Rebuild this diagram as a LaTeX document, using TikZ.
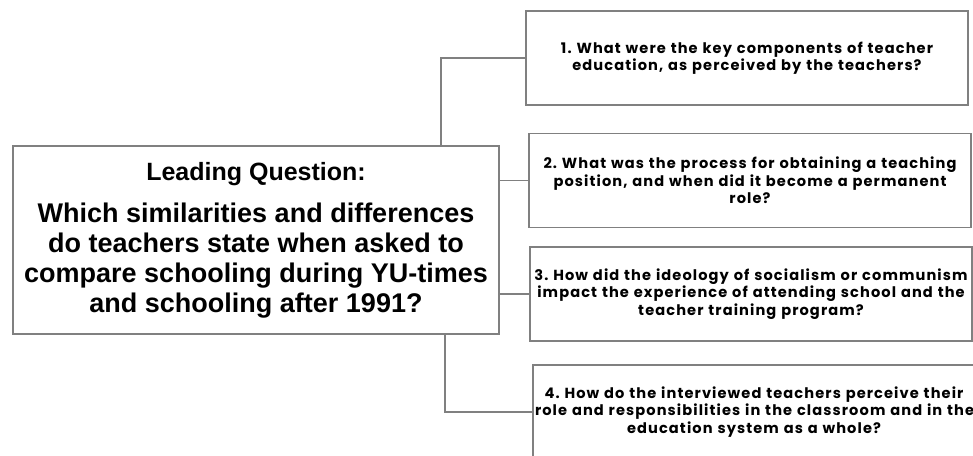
\documentclass[tikz,border=0pt]{standalone}
\usepackage{fontspec}
\setmainfont{Liberation Sans}
\newfontfamily\boxfont[LetterSpace=7.5]{Poppins}
\definecolor{linegray}{RGB}{128,128,128}
\frenchspacing
\begin{document}
\begin{tikzpicture}[x=1pt,y=-1pt]

    \tikzset{
      mainbox/.style={
        draw=linegray,
        line width=1.2pt,
        minimum width=486pt,
        minimum height=188pt,
        inner sep=0pt,
        align=center,
        font=\fontsize{27}{30}\selectfont\bfseries,
      },
      qbox/.style={
        draw=linegray,
        line width=1.2pt,
        minimum width=442pt,
        minimum height=94pt,
        text width=438pt,
        inner sep=0pt,
        align=center,
        font=\boxfont\fontsize{14.6}{17.5}\selectfont\bfseries,
      },
      link/.style={
        draw=linegray,
        line width=1.2pt,
      },
    }
    \useasboundingbox (0,0) rectangle (973,455);
	\node[mainbox] (lead) at (256,240) {{\fontsize{25}{30}\selectfont Leading Question:}\\[12pt] Which similarities and differences\\ do teachers state when asked to\\ compare schooling during YU-times\\ and schooling after 1991?};
	\node[qbox] (q1) at (747,58) {1. What were the key components of teacher\\ education, as perceived by the teachers?};
	\node[qbox] (q2) at (750,180.5) {2. What was the process for obtaining a teaching\\ position, and when did it become a permanent\\ role?};
	\node[qbox] (q3) at (751,294) {3. How did the ideology of socialism or communism\\ impact the experience of attending school and the\\ teacher training program?};
	\node[qbox] (q4) at (754,412) {4. How do the interviewed teachers perceive their\\ role and responsibilities in the classroom and in the\\ education system as a whole?};
	\draw[link] ([xshift=185pt]lead.north) |- (q1.west);
	\draw[link] (lead.east |- q2.west) -- (q2.west);
	\draw[link] (lead.east |- q3.west) -- (q3.west);
	\draw[link] ([xshift=189pt]lead.south) |- (q4.west);

\end{tikzpicture}
\end{document}
